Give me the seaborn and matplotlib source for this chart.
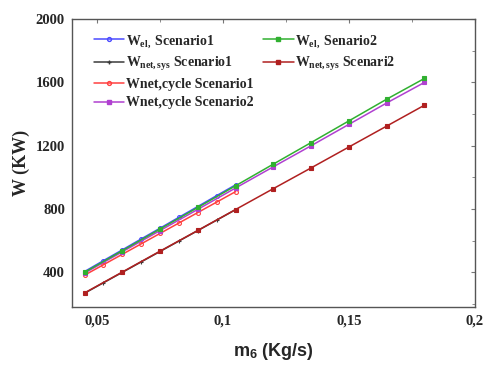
import matplotlib
matplotlib.use("Agg")
import matplotlib.pyplot as plt
import seaborn as sns
import numpy as np
from matplotlib.lines import Line2D
from matplotlib.ticker import MultipleLocator, FuncFormatter

sns.set_style("white")
plt.rcParams['font.family'] = ['Liberation Serif', 'DejaVu Serif']
plt.rcParams['font.weight'] = 'bold'
plt.rcParams['mathtext.fontset'] = 'custom'
plt.rcParams['mathtext.rm'] = 'Liberation Serif:bold'
plt.rcParams['mathtext.it'] = 'Liberation Serif:bold'
plt.rcParams['mathtext.bf'] = 'Liberation Serif:bold'
plt.rcParams['mathtext.sf'] = 'Liberation Sans:bold'

# Data
x_s1 = [0.045, 0.0525, 0.06, 0.0675, 0.075, 0.0825, 0.09, 0.0975, 0.105]
x_s2 = [0.045, 0.06, 0.075, 0.09, 0.105, 0.12, 0.135, 0.15, 0.165, 0.18]

wel_s1 = [405, 474, 542, 611, 679, 748, 816, 885, 953]
wnetsys_s1 = [268, 334, 400, 466, 532, 598, 664, 730, 796]
wnetcycle_s1 = [382, 448, 514, 580, 646, 712, 778, 844, 910]

wel_s2 = [400, 537, 674, 810, 947, 1084, 1220, 1357, 1494, 1625]
wnetsys_s2 = [270, 402, 534, 665, 797, 929, 1060, 1192, 1324, 1456]
wnetcycle_s2 = [395, 530, 664, 798, 933, 1067, 1200, 1335, 1470, 1600]

labels = [r'W$_{\mathrm{el,}}$ Scenario1', r'W$_{\mathrm{net,sys}}$ Scenario1',
          'Wnet,cycle Scenario1', 'Wnet,cycle Scenario2',
          r'W$_{\mathrm{el,}}$ Senario2', r'W$_{\mathrm{net,sys}}$ Scenari2']

fig = plt.figure(figsize=(4.86, 3.67), dpi=100)
ax = fig.add_axes([0.148, 0.163, 0.829, 0.785])

series = [
    (x_s1, wel_s1, '#4a4aff', 'o', 'none', labels[0]),
    (x_s1, wnetsys_s1, '#3a3a3a', '+', '#3a3a3a', labels[1]),
    (x_s1, wnetcycle_s1, '#ff4040', 'o', 'none', labels[2]),
    (x_s2, wnetcycle_s2, '#b040d0', 's', '#b040d0', labels[3]),
    (x_s2, wel_s2, '#30b030', 's', '#30b030', labels[4]),
    (x_s2, wnetsys_s2, '#b02020', 's', '#b02020', labels[5]),
]

handles = []
for xs, ys, c, m, fc, lab in series:
    sns.lineplot(x=xs, y=ys, color=c, marker=m, markersize=2.8,
                 markerfacecolor=fc, markeredgecolor=c, markeredgewidth=0.8,
                 linewidth=1.1, ax=ax, label=None)
    handles.append(Line2D([], [], color=c, marker=m, markersize=2.8,
                          markerfacecolor=fc, markeredgecolor=c, linewidth=1.1))

blank = Line2D([], [], color='none')
order_h = handles[:4] + [handles[4], handles[5], blank, blank]
order_l = labels[:4] + [labels[4], labels[5], '', '']
ax.legend(order_h, order_l, ncol=2, frameon=False, loc='upper left',
          bbox_to_anchor=(0.03, 0.985), prop={'family': 'Liberation Serif', 'weight': 'bold', 'size': 10},
          handlelength=2.2, handletextpad=0.1, columnspacing=0.7, labelspacing=0.38,
          borderaxespad=0.3)

ax.set_xlim(0.04, 0.2)
ax.set_ylim(180, 2000)
ax.xaxis.set_major_locator(MultipleLocator(0.05))
ax.xaxis.set_minor_locator(MultipleLocator(0.025))
ax.yaxis.set_major_locator(MultipleLocator(400))
ax.yaxis.set_minor_locator(MultipleLocator(200))
ax.xaxis.set_major_formatter(FuncFormatter(lambda v, p: ('%g' % round(v, 3)).replace('.', ',')))
ax.yaxis.set_major_formatter(FuncFormatter(lambda v, p: '%d' % v))
ax.tick_params(which='both', direction='in', top=True, right=True, color='#777777')
ax.tick_params(which='major', length=3, labelsize=10.5, pad=5)
ax.tick_params(which='minor', length=2)
for lab in ax.get_xticklabels() + ax.get_yticklabels():
    lab.set_fontweight('bold')
for s in ax.spines.values():
    s.set_color('#555555')
    s.set_linewidth(1.0)

ax.set_ylabel('W (KW)', fontsize=13, fontweight='bold', family='Liberation Serif', labelpad=4)
ax.set_xlabel(r'm$_{\mathsf{6}}$ (Kg/s)', fontsize=13, fontweight='bold', family='Liberation Sans', labelpad=10)

fig.savefig('out.png', dpi=100)
